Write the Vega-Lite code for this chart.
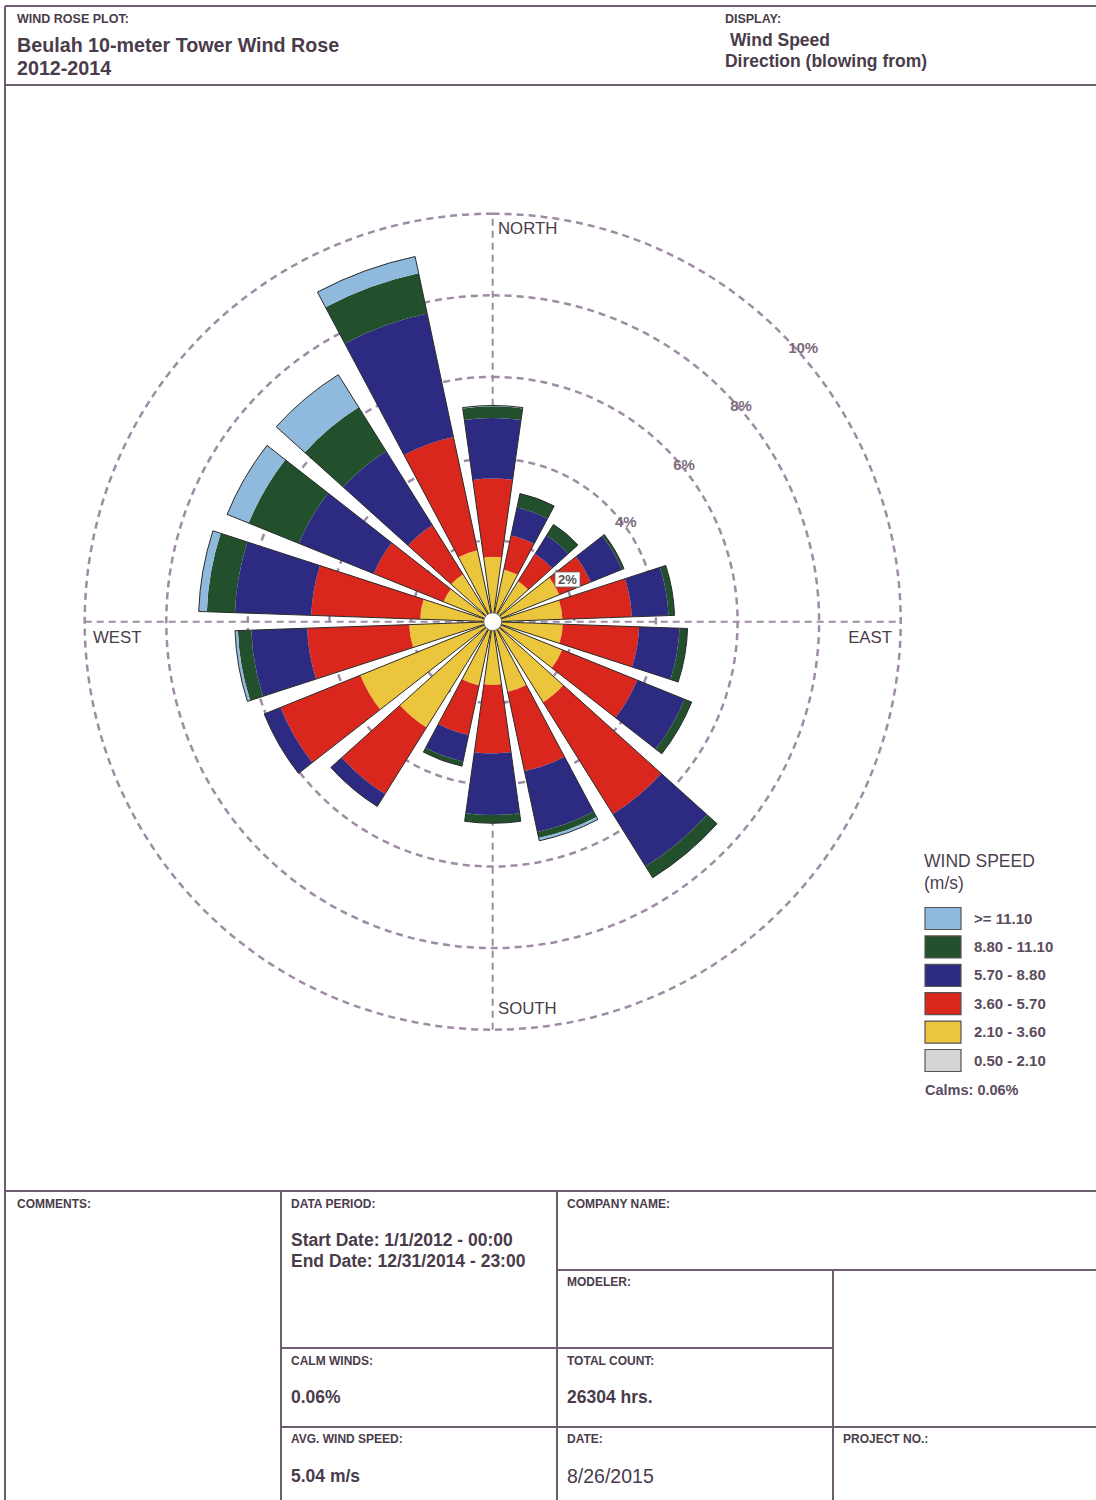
{
"$schema": "https://vega.github.io/schema/vega-lite/v6.json",
"width": 1096, "height": 1500, "autosize": "none", "padding": 0,
"background": "white",
"config": {"view": {"stroke": null}, "font": "Liberation Sans"},
"data": {"values": [{}]},
"datasets": {"rose": [
{"dir":0,"k":1,"bin":"0.50 - 2.10","pct":0.2},{"dir":0,"k":2,"bin":"2.10 - 3.60","pct":1.39},{"dir":0,"k":3,"bin":"3.60 - 5.70","pct":1.92},{"dir":0,"k":4,"bin":"5.70 - 8.80","pct":1.48},{"dir":0,"k":5,"bin":"8.80 - 11.10","pct":0.29},{"dir":0,"k":6,"bin":">= 11.10","pct":0.02},
{"dir":20,"k":1,"bin":"0.50 - 2.10","pct":0.2},{"dir":20,"k":2,"bin":"2.10 - 3.60","pct":1.10},{"dir":20,"k":3,"bin":"3.60 - 5.70","pct":0.86},{"dir":20,"k":4,"bin":"5.70 - 8.80","pct":0.70},{"dir":20,"k":5,"bin":"8.80 - 11.10","pct":0.35},
{"dir":40,"k":1,"bin":"0.50 - 2.10","pct":0.2},{"dir":40,"k":2,"bin":"2.10 - 3.60","pct":0.97},{"dir":40,"k":3,"bin":"3.60 - 5.70","pct":0.79},{"dir":40,"k":4,"bin":"5.70 - 8.80","pct":0.53},{"dir":40,"k":5,"bin":"8.80 - 11.10","pct":0.32},
{"dir":60,"k":1,"bin":"0.50 - 2.10","pct":0.2},{"dir":60,"k":2,"bin":"2.10 - 3.60","pct":1.56},{"dir":60,"k":3,"bin":"3.60 - 5.70","pct":0.83},{"dir":60,"k":4,"bin":"5.70 - 8.80","pct":0.82},{"dir":60,"k":5,"bin":"8.80 - 11.10","pct":0.06},
{"dir":80,"k":1,"bin":"0.50 - 2.10","pct":0.2},{"dir":80,"k":2,"bin":"2.10 - 3.60","pct":1.51},{"dir":80,"k":3,"bin":"3.60 - 5.70","pct":1.70},{"dir":80,"k":4,"bin":"5.70 - 8.80","pct":0.90},{"dir":80,"k":5,"bin":"8.80 - 11.10","pct":0.15},
{"dir":100,"k":1,"bin":"0.50 - 2.10","pct":0.2},{"dir":100,"k":2,"bin":"2.10 - 3.60","pct":1.52},{"dir":100,"k":3,"bin":"3.60 - 5.70","pct":1.87},{"dir":100,"k":4,"bin":"5.70 - 8.80","pct":0.99},{"dir":100,"k":5,"bin":"8.80 - 11.10","pct":0.20},
{"dir":120,"k":1,"bin":"0.50 - 2.10","pct":0.2},{"dir":120,"k":2,"bin":"2.10 - 3.60","pct":1.64},{"dir":120,"k":3,"bin":"3.60 - 5.70","pct":1.98},{"dir":120,"k":4,"bin":"5.70 - 8.80","pct":1.25},{"dir":120,"k":5,"bin":"8.80 - 11.10","pct":0.19},
{"dir":140,"k":1,"bin":"0.50 - 2.10","pct":0.2},{"dir":140,"k":2,"bin":"2.10 - 3.60","pct":2.13},{"dir":140,"k":3,"bin":"3.60 - 5.70","pct":3.23},{"dir":140,"k":4,"bin":"5.70 - 8.80","pct":1.51},{"dir":140,"k":5,"bin":"8.80 - 11.10","pct":0.33},
{"dir":160,"k":1,"bin":"0.50 - 2.10","pct":0.2},{"dir":160,"k":2,"bin":"2.10 - 3.60","pct":1.56},{"dir":160,"k":3,"bin":"3.60 - 5.70","pct":1.99},{"dir":160,"k":4,"bin":"5.70 - 8.80","pct":1.52},{"dir":160,"k":5,"bin":"8.80 - 11.10","pct":0.15},{"dir":160,"k":6,"bin":">= 11.10","pct":0.07},
{"dir":180,"k":1,"bin":"0.50 - 2.10","pct":0.2},{"dir":180,"k":2,"bin":"2.10 - 3.60","pct":1.35},{"dir":180,"k":3,"bin":"3.60 - 5.70","pct":1.68},{"dir":180,"k":4,"bin":"5.70 - 8.80","pct":1.51},{"dir":180,"k":5,"bin":"8.80 - 11.10","pct":0.20},
{"dir":200,"k":1,"bin":"0.50 - 2.10","pct":0.2},{"dir":200,"k":2,"bin":"2.10 - 3.60","pct":1.40},{"dir":200,"k":3,"bin":"3.60 - 5.70","pct":1.24},{"dir":200,"k":4,"bin":"5.70 - 8.80","pct":0.66},{"dir":200,"k":5,"bin":"8.80 - 11.10","pct":0.12},
{"dir":220,"k":1,"bin":"0.50 - 2.10","pct":0.2},{"dir":220,"k":2,"bin":"2.10 - 3.60","pct":2.86},{"dir":220,"k":3,"bin":"3.60 - 5.70","pct":1.92},{"dir":220,"k":4,"bin":"5.70 - 8.80","pct":0.36},
{"dir":240,"k":1,"bin":"0.50 - 2.10","pct":0.2},{"dir":240,"k":2,"bin":"2.10 - 3.60","pct":3.30},{"dir":240,"k":3,"bin":"3.60 - 5.70","pct":2.11},{"dir":240,"k":4,"bin":"5.70 - 8.80","pct":0.43},
{"dir":260,"k":1,"bin":"0.50 - 2.10","pct":0.2},{"dir":260,"k":2,"bin":"2.10 - 3.60","pct":1.85},{"dir":260,"k":3,"bin":"3.60 - 5.70","pct":2.50},{"dir":260,"k":4,"bin":"5.70 - 8.80","pct":1.37},{"dir":260,"k":5,"bin":"8.80 - 11.10","pct":0.33},{"dir":260,"k":6,"bin":">= 11.10","pct":0.07},
{"dir":280,"k":1,"bin":"0.50 - 2.10","pct":0.2},{"dir":280,"k":2,"bin":"2.10 - 3.60","pct":1.58},{"dir":280,"k":3,"bin":"3.60 - 5.70","pct":2.67},{"dir":280,"k":4,"bin":"5.70 - 8.80","pct":1.87},{"dir":280,"k":5,"bin":"8.80 - 11.10","pct":0.69},{"dir":280,"k":6,"bin":">= 11.10","pct":0.20},
{"dir":300,"k":1,"bin":"0.50 - 2.10","pct":0.2},{"dir":300,"k":2,"bin":"2.10 - 3.60","pct":1.10},{"dir":300,"k":3,"bin":"3.60 - 5.70","pct":1.84},{"dir":300,"k":4,"bin":"5.70 - 8.80","pct":1.98},{"dir":300,"k":5,"bin":"8.80 - 11.10","pct":1.33},{"dir":300,"k":6,"bin":">= 11.10","pct":0.57},
{"dir":320,"k":1,"bin":"0.50 - 2.10","pct":0.2},{"dir":320,"k":2,"bin":"2.10 - 3.60","pct":1.17},{"dir":320,"k":3,"bin":"3.60 - 5.70","pct":1.42},{"dir":320,"k":4,"bin":"5.70 - 8.80","pct":2.14},{"dir":320,"k":5,"bin":"8.80 - 11.10","pct":1.27},{"dir":320,"k":6,"bin":">= 11.10","pct":0.94},
{"dir":340,"k":1,"bin":"0.50 - 2.10","pct":0.2},{"dir":340,"k":2,"bin":"2.10 - 3.60","pct":1.59},{"dir":340,"k":3,"bin":"3.60 - 5.70","pct":2.84},{"dir":340,"k":4,"bin":"5.70 - 8.80","pct":3.09},{"dir":340,"k":5,"bin":"8.80 - 11.10","pct":1.01},{"dir":340,"k":6,"bin":">= 11.10","pct":0.42}
]},
"layer": [
{"data": {"values": [{"r":2},{"r":4},{"r":6},{"r":8},{"r":10}]},
 "mark": {"type":"arc","filled":false,"stroke":"#9e8ca4","strokeWidth":2.5,"strokeDash":[7,5]},
 "encoding": {
  "x": {"datum":0,"type":"quantitative","scale":{"domain":[-12.076,14.787],"nice":false,"zero":false},"axis":null},
  "y": {"datum":0,"type":"quantitative","scale":{"domain":[-21.527,15.238],"nice":false,"zero":false},"axis":null},
  "theta": {"value":0}, "theta2": {"value":6.2832},
  "radius": {"field":"r","type":"quantitative","stack":null,"scale":{"type":"linear","domain":[0,10],"range":[0,408],"zero":true,"nice":false}}
 }},
{"mark": {"type":"rule","stroke":"#9e8ca4","strokeWidth":2,"strokeDash":[7,5]},
 "encoding": {
  "x": {"datum":0,"type":"quantitative","scale":{"domain":[-12.076,14.787],"nice":false,"zero":false},"axis":null},
  "y": {"datum":-10,"type":"quantitative","scale":{"domain":[-21.527,15.238],"nice":false,"zero":false},"axis":null},
  "y2": {"datum":10}}},
{"mark": {"type":"rule","stroke":"#9e8ca4","strokeWidth":2,"strokeDash":[7,5]},
 "encoding": {
  "x": {"datum":-10,"type":"quantitative","scale":{"domain":[-12.076,14.787],"nice":false,"zero":false},"axis":null},
  "x2": {"datum":10},
  "y": {"datum":0,"type":"quantitative","scale":{"domain":[-21.527,15.238],"nice":false,"zero":false},"axis":null}}},
{"data": {"name":"rose"},
 "transform": [{"stack":"pct","groupby":["dir"],"sort":[{"field":"k","order":"ascending"}],"as":["r0","r1"]}],
 "mark": {"type":"arc"},
 "encoding": {
  "x": {"datum":0,"type":"quantitative","scale":{"domain":[-12.076,14.787],"nice":false,"zero":false},"axis":null},
  "y": {"datum":0,"type":"quantitative","scale":{"domain":[-21.527,15.238],"nice":false,"zero":false},"axis":null},
  "theta": {"field":"dir","type":"ordinal","scale":{"type":"band","domain":[0,20,40,60,80,100,120,140,160,180,200,220,240,260,280,300,320,340],"range":[-0.174533,6.108652],"paddingInner":0.2,"paddingOuter":0.1}},
  "radius": {"field":"r1","type":"quantitative","stack":null,"scale":{"type":"linear","domain":[0,10],"range":[0,408],"zero":true,"nice":false}},
  "radius2": {"field":"r0"},
  "color": {"field":"bin","type":"nominal",
   "scale":{"domain":[">= 11.10","8.80 - 11.10","5.70 - 8.80","3.60 - 5.70","2.10 - 3.60","0.50 - 2.10"],"range":["#8fb9dd","#22502d","#2d2a82","#d9271d","#ebc63c","#d5d5d5"]},
   "legend":{"orient":"none","legendX":924,"legendY":853,"padding":0,"title":["WIND SPEED","(m/s)"],"titleFont":"Liberation Sans","titleFontSize":17.5,"titleFontWeight":"normal","titleColor":"#4d3f50","titleLineHeight":22,"titlePadding":15,"labelFont":"Liberation Sans","labelFontSize":15,"labelFontWeight":"bold","labelColor":"#5b4b5e","labelOffset":28,"symbolType":"M-1,-1.1H2.6V1.1H-1Z","symbolSize":400,"symbolStrokeColor":"#555555","symbolStrokeWidth":1.2,"symbolOpacity":1,"rowPadding":0.4}}
 }},
{"data": {"name":"rose"},
 "transform": [{"aggregate":[{"op":"sum","field":"pct","as":"tot"}],"groupby":["dir"]}],
 "mark": {"type":"arc","filled":false,"stroke":"#2b2b2b","strokeWidth":1},
 "encoding": {
  "x": {"datum":0,"type":"quantitative","scale":{"domain":[-12.076,14.787],"nice":false,"zero":false},"axis":null},
  "y": {"datum":0,"type":"quantitative","scale":{"domain":[-21.527,15.238],"nice":false,"zero":false},"axis":null},
  "theta": {"field":"dir","type":"ordinal","scale":{"type":"band","domain":[0,20,40,60,80,100,120,140,160,180,200,220,240,260,280,300,320,340],"range":[-0.174533,6.108652],"paddingInner":0.2,"paddingOuter":0.1}},
  "radius": {"field":"tot","type":"quantitative","stack":null,"scale":{"type":"linear","domain":[0,10],"range":[0,408],"zero":true,"nice":false}}
 }},
{"mark": {"type":"arc","fill":"white","stroke":"#666666","strokeWidth":1},
 "encoding": {
  "x": {"datum":0,"type":"quantitative","scale":{"domain":[-12.076,14.787],"nice":false,"zero":false},"axis":null},
  "y": {"datum":0,"type":"quantitative","scale":{"domain":[-21.527,15.238],"nice":false,"zero":false},"axis":null},
  "theta": {"value":0}, "theta2": {"value":6.2832},
  "radius": {"datum":0.22,"type":"quantitative","scale":{"type":"linear","domain":[0,10],"range":[0,408],"zero":true,"nice":false}}
 }},
{"mark": {"type":"rect","fill":"white","stroke":"#666666","strokeWidth":0.8},
 "encoding": {
  "x": {"datum":1.527,"type":"quantitative","scale":{"domain":[-12.076,14.787],"nice":false,"zero":false},"axis":null},
  "x2": {"datum":2.140},
  "y": {"datum":1.218,"type":"quantitative","scale":{"domain":[-21.527,15.238],"nice":false,"zero":false},"axis":null},
  "y2": {"datum":0.850}}},
{"mark": {"type":"text","align":"center","baseline":"alphabetic","fontSize":15,"fontWeight":"bold","color":"#7d6c80"},
 "encoding": {"x": {"datum":7.610,"type":"quantitative","scale":{"domain":[-12.076,14.787],"nice":false,"zero":false},"axis":null},"y": {"datum":6.576,"type":"quantitative","scale":{"domain":[-21.527,15.238],"nice":false,"zero":false},"axis":null},"text":{"value":"10%"}}},
{"mark": {"type":"text","align":"center","baseline":"alphabetic","fontSize":15,"fontWeight":"bold","color":"#7d6c80"},
 "encoding": {"x": {"datum":6.086,"type":"quantitative","scale":{"domain":[-12.076,14.787],"nice":false,"zero":false},"axis":null},"y": {"datum":5.154,"type":"quantitative","scale":{"domain":[-21.527,15.238],"nice":false,"zero":false},"axis":null},"text":{"value":"8%"}}},
{"mark": {"type":"text","align":"center","baseline":"alphabetic","fontSize":15,"fontWeight":"bold","color":"#7d6c80"},
 "encoding": {"x": {"datum":4.689,"type":"quantitative","scale":{"domain":[-12.076,14.787],"nice":false,"zero":false},"axis":null},"y": {"datum":3.708,"type":"quantitative","scale":{"domain":[-21.527,15.238],"nice":false,"zero":false},"axis":null},"text":{"value":"6%"}}},
{"mark": {"type":"text","align":"center","baseline":"alphabetic","fontSize":15,"fontWeight":"bold","color":"#7d6c80"},
 "encoding": {"x": {"datum":3.262,"type":"quantitative","scale":{"domain":[-12.076,14.787],"nice":false,"zero":false},"axis":null},"y": {"datum":2.311,"type":"quantitative","scale":{"domain":[-21.527,15.238],"nice":false,"zero":false},"axis":null},"text":{"value":"4%"}}},
{"mark": {"type":"text","align":"center","baseline":"alphabetic","fontSize":13,"fontWeight":"bold","color":"#555555"},
 "encoding": {"x": {"datum":1.833,"type":"quantitative","scale":{"domain":[-12.076,14.787],"nice":false,"zero":false},"axis":null},"y": {"datum":0.914,"type":"quantitative","scale":{"domain":[-21.527,15.238],"nice":false,"zero":false},"axis":null},"text":{"value":"2%"}}},
{"mark": {"type":"text","align":"left","baseline":"alphabetic","fontSize":16.8,"color":"#4a3c4b"},
 "encoding": {"x": {"datum":0.130,"type":"quantitative","scale":{"domain":[-12.076,14.787],"nice":false,"zero":false},"axis":null},"y": {"datum":9.502,"type":"quantitative","scale":{"domain":[-21.527,15.238],"nice":false,"zero":false},"axis":null},"text":{"value":"NORTH"}}},
{"mark": {"type":"text","align":"left","baseline":"alphabetic","fontSize":16.8,"color":"#4a3c4b"},
 "encoding": {"x": {"datum":0.130,"type":"quantitative","scale":{"domain":[-12.076,14.787],"nice":false,"zero":false},"axis":null},"y": {"datum":-9.615,"type":"quantitative","scale":{"domain":[-21.527,15.238],"nice":false,"zero":false},"axis":null},"text":{"value":"SOUTH"}}},
{"mark": {"type":"text","align":"left","baseline":"alphabetic","fontSize":16.8,"color":"#4a3c4b"},
 "encoding": {"x": {"datum":-9.797,"type":"quantitative","scale":{"domain":[-12.076,14.787],"nice":false,"zero":false},"axis":null},"y": {"datum":-0.522,"type":"quantitative","scale":{"domain":[-21.527,15.238],"nice":false,"zero":false},"axis":null},"text":{"value":"WEST"}}},
{"mark": {"type":"text","align":"right","baseline":"alphabetic","fontSize":16.8,"color":"#4a3c4b"},
 "encoding": {"x": {"datum":9.787,"type":"quantitative","scale":{"domain":[-12.076,14.787],"nice":false,"zero":false},"axis":null},"y": {"datum":-0.522,"type":"quantitative","scale":{"domain":[-21.527,15.238],"nice":false,"zero":false},"axis":null},"text":{"value":"EAST"}}},
{"mark": {"type":"text","align":"left","baseline":"alphabetic","fontSize":14.5,"fontWeight":"bold","color":"#5b4b5e"},
 "encoding": {"x": {"datum":10.596,"type":"quantitative","scale":{"domain":[-12.076,14.787],"nice":false,"zero":false},"axis":null},"y": {"datum":-11.605,"type":"quantitative","scale":{"domain":[-21.527,15.238],"nice":false,"zero":false},"axis":null},"text":{"value":"Calms: 0.06%"}}},
{"mark": {"type":"rule","stroke":"#6e5d6f","strokeWidth":2},
 "encoding": {"x": {"datum":-11.953,"type":"quantitative","scale":{"domain":[-12.076,14.787],"nice":false,"zero":false},"axis":null},"x2":{"datum":15},"y": {"datum":15.091,"type":"quantitative","scale":{"domain":[-21.527,15.238],"nice":false,"zero":false},"axis":null}}},
{"mark": {"type":"rule","stroke":"#6e5d6f","strokeWidth":2},
 "encoding": {"x": {"datum":-11.953,"type":"quantitative","scale":{"domain":[-12.076,14.787],"nice":false,"zero":false},"axis":null},"y": {"datum":15.091,"type":"quantitative","scale":{"domain":[-21.527,15.238],"nice":false,"zero":false},"axis":null},"y2":{"datum":-22}}},
{"mark": {"type":"rule","stroke":"#6e5d6f","strokeWidth":2},
 "encoding": {"x": {"datum":-11.953,"type":"quantitative","scale":{"domain":[-12.076,14.787],"nice":false,"zero":false},"axis":null},"x2":{"datum":15},"y": {"datum":13.154,"type":"quantitative","scale":{"domain":[-21.527,15.238],"nice":false,"zero":false},"axis":null}}},
{"mark": {"type":"rule","stroke":"#6e5d6f","strokeWidth":2},
 "encoding": {"x": {"datum":-11.953,"type":"quantitative","scale":{"domain":[-12.076,14.787],"nice":false,"zero":false},"axis":null},"x2":{"datum":15},"y": {"datum":-13.953,"type":"quantitative","scale":{"domain":[-21.527,15.238],"nice":false,"zero":false},"axis":null}}},
{"mark": {"type":"rule","stroke":"#6e5d6f","strokeWidth":2},
 "encoding": {"x": {"datum":-5.189,"type":"quantitative","scale":{"domain":[-12.076,14.787],"nice":false,"zero":false},"axis":null},"y": {"datum":-13.953,"type":"quantitative","scale":{"domain":[-21.527,15.238],"nice":false,"zero":false},"axis":null},"y2":{"datum":-22}}},
{"mark": {"type":"rule","stroke":"#6e5d6f","strokeWidth":2},
 "encoding": {"x": {"datum":1.576,"type":"quantitative","scale":{"domain":[-12.076,14.787],"nice":false,"zero":false},"axis":null},"y": {"datum":-13.953,"type":"quantitative","scale":{"domain":[-21.527,15.238],"nice":false,"zero":false},"axis":null},"y2":{"datum":-22}}},
{"mark": {"type":"rule","stroke":"#6e5d6f","strokeWidth":2},
 "encoding": {"x": {"datum":-5.189,"type":"quantitative","scale":{"domain":[-12.076,14.787],"nice":false,"zero":false},"axis":null},"x2":{"datum":8.341},"y": {"datum":-17.801,"type":"quantitative","scale":{"domain":[-21.527,15.238],"nice":false,"zero":false},"axis":null}}},
{"mark": {"type":"rule","stroke":"#6e5d6f","strokeWidth":2},
 "encoding": {"x": {"datum":1.576,"type":"quantitative","scale":{"domain":[-12.076,14.787],"nice":false,"zero":false},"axis":null},"x2":{"datum":15},"y": {"datum":-15.890,"type":"quantitative","scale":{"domain":[-21.527,15.238],"nice":false,"zero":false},"axis":null}}},
{"mark": {"type":"rule","stroke":"#6e5d6f","strokeWidth":2},
 "encoding": {"x": {"datum":-5.189,"type":"quantitative","scale":{"domain":[-12.076,14.787],"nice":false,"zero":false},"axis":null},"x2":{"datum":15},"y": {"datum":-19.738,"type":"quantitative","scale":{"domain":[-21.527,15.238],"nice":false,"zero":false},"axis":null}}},
{"mark": {"type":"rule","stroke":"#6e5d6f","strokeWidth":2},
 "encoding": {"x": {"datum":8.341,"type":"quantitative","scale":{"domain":[-12.076,14.787],"nice":false,"zero":false},"axis":null},"y": {"datum":-15.890,"type":"quantitative","scale":{"domain":[-21.527,15.238],"nice":false,"zero":false},"axis":null},"y2":{"datum":-22}}},
{"mark": {"type":"text","align":"left","baseline":"alphabetic","fontSize":12.5,"fontWeight":"bold","color":"#4a3c4b"},
 "encoding": {"x": {"datum":-11.659,"type":"quantitative","scale":{"domain":[-12.076,14.787],"nice":false,"zero":false},"axis":null},"y": {"datum":14.686,"type":"quantitative","scale":{"domain":[-21.527,15.238],"nice":false,"zero":false},"axis":null},"text":{"value":"WIND ROSE PLOT:"}}},
{"mark": {"type":"text","align":"left","baseline":"alphabetic","fontSize":19.7,"fontWeight":"bold","lineHeight":23.5,"color":"#4a3c4b"},
 "encoding": {"x": {"datum":-11.659,"type":"quantitative","scale":{"domain":[-12.076,14.787],"nice":false,"zero":false},"axis":null},"y": {"datum":13.975,"type":"quantitative","scale":{"domain":[-21.527,15.238],"nice":false,"zero":false},"axis":null},"text":{"value":["Beulah 10-meter Tower Wind Rose","2012-2014"]}}},
{"mark": {"type":"text","align":"left","baseline":"alphabetic","fontSize":12.5,"fontWeight":"bold","color":"#4a3c4b"},
 "encoding": {"x": {"datum":5.691,"type":"quantitative","scale":{"domain":[-12.076,14.787],"nice":false,"zero":false},"axis":null},"y": {"datum":14.686,"type":"quantitative","scale":{"domain":[-21.527,15.238],"nice":false,"zero":false},"axis":null},"text":{"value":"DISPLAY:"}}},
{"mark": {"type":"text","align":"left","baseline":"alphabetic","fontSize":17.5,"fontWeight":"bold","color":"#4a3c4b"},
 "encoding": {"x": {"datum":5.816,"type":"quantitative","scale":{"domain":[-12.076,14.787],"nice":false,"zero":false},"axis":null},"y": {"datum":14.110,"type":"quantitative","scale":{"domain":[-21.527,15.238],"nice":false,"zero":false},"axis":null},"text":{"value":"Wind Speed"}}},
{"mark": {"type":"text","align":"left","baseline":"alphabetic","fontSize":17.5,"fontWeight":"bold","color":"#4a3c4b"},
 "encoding": {"x": {"datum":5.691,"type":"quantitative","scale":{"domain":[-12.076,14.787],"nice":false,"zero":false},"axis":null},"y": {"datum":13.596,"type":"quantitative","scale":{"domain":[-21.527,15.238],"nice":false,"zero":false},"axis":null},"text":{"value":"Direction (blowing from)"}}},
{"mark": {"type":"text","align":"left","baseline":"alphabetic","fontSize":12,"fontWeight":"bold","color":"#4a3c4b"},
 "encoding": {"x": {"datum":-11.659,"type":"quantitative","scale":{"domain":[-12.076,14.787],"nice":false,"zero":false},"axis":null},"y": {"datum":-14.358,"type":"quantitative","scale":{"domain":[-21.527,15.238],"nice":false,"zero":false},"axis":null},"text":{"value":"COMMENTS:"}}},
{"mark": {"type":"text","align":"left","baseline":"alphabetic","fontSize":12,"fontWeight":"bold","color":"#4a3c4b"},
 "encoding": {"x": {"datum":-4.944,"type":"quantitative","scale":{"domain":[-12.076,14.787],"nice":false,"zero":false},"axis":null},"y": {"datum":-14.358,"type":"quantitative","scale":{"domain":[-21.527,15.238],"nice":false,"zero":false},"axis":null},"text":{"value":"DATA PERIOD:"}}},
{"mark": {"type":"text","align":"left","baseline":"alphabetic","fontSize":12,"fontWeight":"bold","color":"#4a3c4b"},
 "encoding": {"x": {"datum":1.821,"type":"quantitative","scale":{"domain":[-12.076,14.787],"nice":false,"zero":false},"axis":null},"y": {"datum":-14.358,"type":"quantitative","scale":{"domain":[-21.527,15.238],"nice":false,"zero":false},"axis":null},"text":{"value":"COMPANY NAME:"}}},
{"mark": {"type":"text","align":"left","baseline":"alphabetic","fontSize":12,"fontWeight":"bold","color":"#4a3c4b"},
 "encoding": {"x": {"datum":1.821,"type":"quantitative","scale":{"domain":[-12.076,14.787],"nice":false,"zero":false},"axis":null},"y": {"datum":-16.270,"type":"quantitative","scale":{"domain":[-21.527,15.238],"nice":false,"zero":false},"axis":null},"text":{"value":"MODELER:"}}},
{"mark": {"type":"text","align":"left","baseline":"alphabetic","fontSize":12,"fontWeight":"bold","color":"#4a3c4b"},
 "encoding": {"x": {"datum":-4.944,"type":"quantitative","scale":{"domain":[-12.076,14.787],"nice":false,"zero":false},"axis":null},"y": {"datum":-18.206,"type":"quantitative","scale":{"domain":[-21.527,15.238],"nice":false,"zero":false},"axis":null},"text":{"value":"CALM WINDS:"}}},
{"mark": {"type":"text","align":"left","baseline":"alphabetic","fontSize":12,"fontWeight":"bold","color":"#4a3c4b"},
 "encoding": {"x": {"datum":1.821,"type":"quantitative","scale":{"domain":[-12.076,14.787],"nice":false,"zero":false},"axis":null},"y": {"datum":-18.206,"type":"quantitative","scale":{"domain":[-21.527,15.238],"nice":false,"zero":false},"axis":null},"text":{"value":"TOTAL COUNT:"}}},
{"mark": {"type":"text","align":"left","baseline":"alphabetic","fontSize":12,"fontWeight":"bold","color":"#4a3c4b"},
 "encoding": {"x": {"datum":-4.944,"type":"quantitative","scale":{"domain":[-12.076,14.787],"nice":false,"zero":false},"axis":null},"y": {"datum":-20.118,"type":"quantitative","scale":{"domain":[-21.527,15.238],"nice":false,"zero":false},"axis":null},"text":{"value":"AVG. WIND SPEED:"}}},
{"mark": {"type":"text","align":"left","baseline":"alphabetic","fontSize":12,"fontWeight":"bold","color":"#4a3c4b"},
 "encoding": {"x": {"datum":1.821,"type":"quantitative","scale":{"domain":[-12.076,14.787],"nice":false,"zero":false},"axis":null},"y": {"datum":-20.118,"type":"quantitative","scale":{"domain":[-21.527,15.238],"nice":false,"zero":false},"axis":null},"text":{"value":"DATE:"}}},
{"mark": {"type":"text","align":"left","baseline":"alphabetic","fontSize":12,"fontWeight":"bold","color":"#4a3c4b"},
 "encoding": {"x": {"datum":8.586,"type":"quantitative","scale":{"domain":[-12.076,14.787],"nice":false,"zero":false},"axis":null},"y": {"datum":-20.118,"type":"quantitative","scale":{"domain":[-21.527,15.238],"nice":false,"zero":false},"axis":null},"text":{"value":"PROJECT NO.:"}}},
{"mark": {"type":"text","align":"left","baseline":"alphabetic","fontSize":17.5,"fontWeight":"bold","lineHeight":21,"color":"#4a3c4b"},
 "encoding": {"x": {"datum":-4.944,"type":"quantitative","scale":{"domain":[-12.076,14.787],"nice":false,"zero":false},"axis":null},"y": {"datum":-15.309,"type":"quantitative","scale":{"domain":[-21.527,15.238],"nice":false,"zero":false},"axis":null},"text":{"value":["Start Date: 1/1/2012 - 00:00","End Date: 12/31/2014 - 23:00"]}}},
{"mark": {"type":"text","align":"left","baseline":"alphabetic","fontSize":17.5,"fontWeight":"bold","color":"#4a3c4b"},
 "encoding": {"x": {"datum":-4.944,"type":"quantitative","scale":{"domain":[-12.076,14.787],"nice":false,"zero":false},"axis":null},"y": {"datum":-19.157,"type":"quantitative","scale":{"domain":[-21.527,15.238],"nice":false,"zero":false},"axis":null},"text":{"value":"0.06%"}}},
{"mark": {"type":"text","align":"left","baseline":"alphabetic","fontSize":17.5,"fontWeight":"bold","color":"#4a3c4b"},
 "encoding": {"x": {"datum":1.821,"type":"quantitative","scale":{"domain":[-12.076,14.787],"nice":false,"zero":false},"axis":null},"y": {"datum":-19.157,"type":"quantitative","scale":{"domain":[-21.527,15.238],"nice":false,"zero":false},"axis":null},"text":{"value":"26304 hrs."}}},
{"mark": {"type":"text","align":"left","baseline":"alphabetic","fontSize":17.5,"fontWeight":"bold","color":"#4a3c4b"},
 "encoding": {"x": {"datum":-4.944,"type":"quantitative","scale":{"domain":[-12.076,14.787],"nice":false,"zero":false},"axis":null},"y": {"datum":-21.093,"type":"quantitative","scale":{"domain":[-21.527,15.238],"nice":false,"zero":false},"axis":null},"text":{"value":"5.04 m/s"}}},
{"mark": {"type":"text","align":"left","baseline":"alphabetic","fontSize":19.5,"color":"#4a3c4b"},
 "encoding": {"x": {"datum":1.821,"type":"quantitative","scale":{"domain":[-12.076,14.787],"nice":false,"zero":false},"axis":null},"y": {"datum":-21.110,"type":"quantitative","scale":{"domain":[-21.527,15.238],"nice":false,"zero":false},"axis":null},"text":{"value":"8/26/2015"}}}
]
}
